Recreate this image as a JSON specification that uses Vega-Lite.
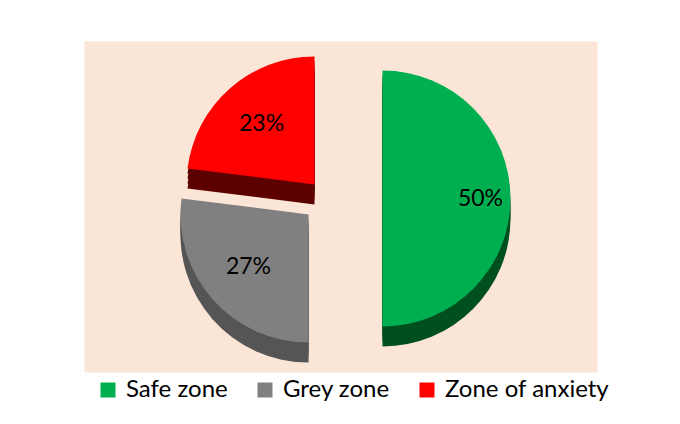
{
  "$schema": "https://vega.github.io/schema/vega-lite/v6.json",
  "width": 513,
  "height": 331,
  "autosize": {"type": "none"},
  "padding": {"left": 84, "top": 41, "right": 83, "bottom": 52},
  "background": "white",
  "view": {"fill": "#fbe5d6", "stroke": "transparent"},
  "config": {"font": "Lato"},
  "data": {"values": [
    {"zone": "Safe zone", "value": 50, "label": "50%"},
    {"zone": "Grey zone", "value": 27, "label": "27%"},
    {"zone": "Zone of anxiety", "value": 23, "label": "23%"}
  ]},
  "transform": [{"stack": "value", "groupby": [], "as": ["s", "e"]}],
  "layer": [
    {
      "transform": [{"filter": "datum.zone === 'Zone of anxiety'"}],
      "layer": [
        {"mark": {"type": "arc", "outerRadius": 128, "color": "#5c0000", "xOffset": -26, "yOffset": -2}, "encoding": {"theta": {"field": "s", "type": "quantitative", "scale": {"domain": [0, 100]}}, "theta2": {"field": "e"}}},
        {"mark": {"type": "arc", "outerRadius": 128, "color": "#5c0000", "xOffset": -26, "yOffset": -7}, "encoding": {"theta": {"field": "s", "type": "quantitative"}, "theta2": {"field": "e"}}},
        {"mark": {"type": "arc", "outerRadius": 128, "color": "#5c0000", "xOffset": -26, "yOffset": -12}, "encoding": {"theta": {"field": "s", "type": "quantitative"}, "theta2": {"field": "e"}}},
        {"mark": {"type": "arc", "outerRadius": 128, "color": "#5c0000", "xOffset": -26, "yOffset": -17}, "encoding": {"theta": {"field": "s", "type": "quantitative"}, "theta2": {"field": "e"}}}
      ]
    },
    {
      "transform": [{"filter": "datum.zone === 'Grey zone'"}],
      "layer": [
        {"mark": {"type": "arc", "outerRadius": 128, "color": "#555555", "xOffset": -32, "yOffset": 28}, "encoding": {"theta": {"field": "s", "type": "quantitative"}, "theta2": {"field": "e"}}},
        {"mark": {"type": "arc", "outerRadius": 128, "color": "#555555", "xOffset": -32, "yOffset": 23}, "encoding": {"theta": {"field": "s", "type": "quantitative"}, "theta2": {"field": "e"}}},
        {"mark": {"type": "arc", "outerRadius": 128, "color": "#555555", "xOffset": -32, "yOffset": 18}, "encoding": {"theta": {"field": "s", "type": "quantitative"}, "theta2": {"field": "e"}}},
        {"mark": {"type": "arc", "outerRadius": 128, "color": "#555555", "xOffset": -32, "yOffset": 13}, "encoding": {"theta": {"field": "s", "type": "quantitative"}, "theta2": {"field": "e"}}}
      ]
    },
    {
      "transform": [{"filter": "datum.zone === 'Safe zone'"}],
      "layer": [
        {"mark": {"type": "arc", "outerRadius": 128, "color": "#00501f", "xOffset": 42, "yOffset": 12}, "encoding": {"theta": {"field": "s", "type": "quantitative"}, "theta2": {"field": "e"}}},
        {"mark": {"type": "arc", "outerRadius": 128, "color": "#00501f", "xOffset": 42, "yOffset": 7}, "encoding": {"theta": {"field": "s", "type": "quantitative"}, "theta2": {"field": "e"}}},
        {"mark": {"type": "arc", "outerRadius": 128, "color": "#00501f", "xOffset": 42, "yOffset": 2}, "encoding": {"theta": {"field": "s", "type": "quantitative"}, "theta2": {"field": "e"}}},
        {"mark": {"type": "arc", "outerRadius": 128, "color": "#00501f", "xOffset": 42, "yOffset": -3}, "encoding": {"theta": {"field": "s", "type": "quantitative"}, "theta2": {"field": "e"}}}
      ]
    },
    {
      "transform": [{"filter": "datum.zone === 'Zone of anxiety'"}],
      "mark": {"type": "arc", "outerRadius": 128, "xOffset": -26, "yOffset": -22},
      "encoding": {
        "theta": {"field": "s", "type": "quantitative"}, "theta2": {"field": "e"},
        "color": {"field": "zone", "type": "nominal", "scale": {"domain": ["Safe zone", "Grey zone", "Zone of anxiety"], "range": ["#00b050", "#808080", "#ff0000"]}, "legend": {"title": null, "orient": "bottom", "direction": "horizontal", "symbolType": "square", "symbolSize": 225, "symbolStrokeWidth": 0, "symbolOpacity": 1, "labelFont": "Lato", "labelFontSize": 24, "labelColor": "#000000", "labelLimit": 400, "labelOffset": 6, "columnPadding": 25, "padding": 12, "offset": -6}}
      }
    },
    {
      "transform": [{"filter": "datum.zone === 'Grey zone'"}],
      "mark": {"type": "arc", "outerRadius": 128, "xOffset": -32, "yOffset": 8},
      "encoding": {
        "theta": {"field": "s", "type": "quantitative"}, "theta2": {"field": "e"},
        "color": {"field": "zone", "type": "nominal"}
      }
    },
    {
      "transform": [{"filter": "datum.zone === 'Safe zone'"}],
      "mark": {"type": "arc", "outerRadius": 128, "xOffset": 42, "yOffset": -8},
      "encoding": {
        "theta": {"field": "s", "type": "quantitative"}, "theta2": {"field": "e"},
        "color": {"field": "zone", "type": "nominal"}
      }
    },
    {
      "mark": {"type": "text", "radius": 98, "fontSize": 23, "font": "Lato", "color": "#000000", "xOffset": 42, "yOffset": -8},
      "encoding": {
        "theta": {"field": "value", "type": "quantitative", "stack": true},
        "order": {"field": "s", "type": "quantitative"},
        "text": {"condition": {"test": "datum.zone === 'Safe zone'", "field": "label", "type": "nominal"}, "value": ""}
      }
    },
    {
      "mark": {"type": "text", "radius": 80, "fontSize": 23, "font": "Lato", "color": "#000000", "xOffset": -32, "yOffset": 8},
      "encoding": {
        "theta": {"field": "value", "type": "quantitative", "stack": true},
        "order": {"field": "s", "type": "quantitative"},
        "text": {"condition": {"test": "datum.zone === 'Grey zone'", "field": "label", "type": "nominal"}, "value": ""}
      }
    },
    {
      "mark": {"type": "text", "radius": 80, "fontSize": 23, "font": "Lato", "color": "#000000", "xOffset": -26, "yOffset": -22},
      "encoding": {
        "theta": {"field": "value", "type": "quantitative", "stack": true},
        "order": {"field": "s", "type": "quantitative"},
        "text": {"condition": {"test": "datum.zone === 'Zone of anxiety'", "field": "label", "type": "nominal"}, "value": ""}
      }
    }
  ]
}
